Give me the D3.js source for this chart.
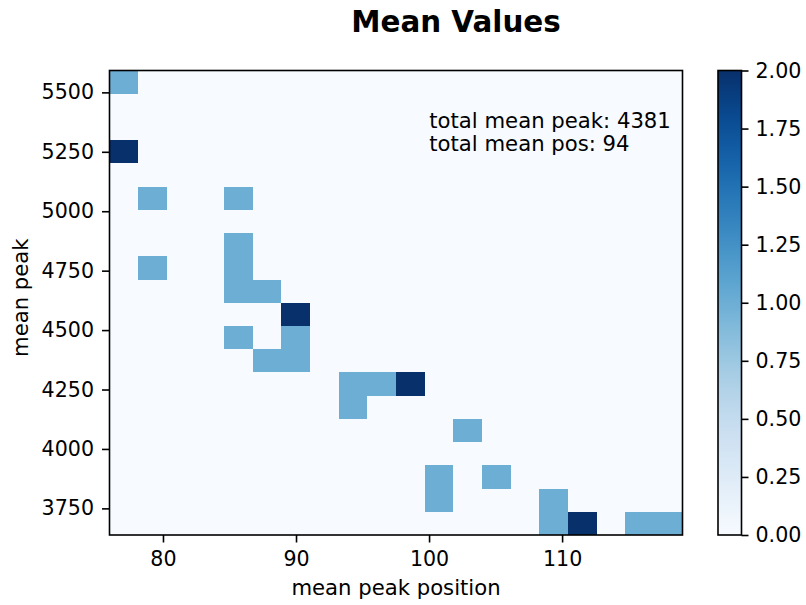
<!DOCTYPE html>
<html>
<head>
<meta charset="utf-8">
<script src="https://cdn.jsdelivr.net/npm/d3@7"></script>
<style>
  html, body { margin: 0; padding: 0; background: #ffffff; }
  svg { display: block; }
  text { font-family: "DejaVu Sans", sans-serif; fill: #000; }
</style>
</head>
<body>
<svg id="chart" width="806" height="605"></svg>
<script>
// Histogram extent (data units) and bin count per axis
const xExtent = [75.98, 119.05];
const yExtent = [3638, 5592];
const binCount = 20;

// Non-empty bins: column index (left to right), row index (bottom to top), count
const binCol   = [0, 0, 1, 4, 4, 4, 4, 1, 5, 6, 4, 6, 6, 5, 8, 9, 10, 8, 12, 11, 11, 13, 15, 15, 16, 18, 19];
const binRow   = [19, 16, 14, 14, 12, 11, 10, 11, 10, 9, 8, 8, 7, 7, 6, 6, 6, 5, 4, 2, 1, 2, 1, 0, 0, 0, 0];
const binValue = [1, 2, 1, 1, 1, 1, 1, 1, 1, 2, 1, 1, 1, 1, 1, 1, 2, 1, 1, 1, 1, 1, 1, 1, 2, 1, 1];

// Axis ticks
const xTicks = [80, 90, 100, 110];
const yTicks = [3750, 4000, 4250, 4500, 4750, 5000, 5250, 5500];
const colorTicks = [0, 0.25, 0.5, 0.75, 1, 1.25, 1.5, 1.75, 2];

// Summary figures printed inside the plot
const totalMeanPeak = 4381;
const totalMeanPos = 94;

const svg = d3.select("#chart");
const TICK_FS = 20.6;
const LABEL_FS = 21.2;

const plot = { left: 109.5, right: 682.5, top: 70.5, bottom: 535 };
const x = d3.scaleLinear().domain(xExtent).range([plot.left, plot.right]);
const y = d3.scaleLinear().domain(yExtent).range([plot.bottom, plot.top]);
const color = d3.scaleSequential(d3.interpolateBlues).domain([0, 2]);

// Full count grid, zero where no observations fell
const grid = [];
for (let c = 0; c < binCount; c++) {
  for (let r = 0; r < binCount; r++) grid.push({ c, r, v: 0 });
}
binCol.forEach((c, i) => { grid[c * binCount + binRow[i]].v = binValue[i]; });

const xStep = (xExtent[1] - xExtent[0]) / binCount;
const yStep = (yExtent[1] - yExtent[0]) / binCount;

svg.append("g")
  .attr("shape-rendering", "crispEdges")
  .selectAll("rect")
  .data(grid)
  .join("rect")
  .attr("x", d => x(xExtent[0] + d.c * xStep))
  .attr("width", d => x(xExtent[0] + (d.c + 1) * xStep) - x(xExtent[0] + d.c * xStep))
  .attr("y", d => y(yExtent[0] + (d.r + 1) * yStep))
  .attr("height", d => y(yExtent[0] + d.r * yStep) - y(yExtent[0] + (d.r + 1) * yStep))
  .attr("fill", d => color(d.v));

// Axes
const xAxis = svg.append("g")
  .attr("transform", `translate(0,${plot.bottom})`)
  .call(d3.axisBottom(x).tickValues(xTicks).tickFormat(d3.format("d"))
    .tickSize(7.5).tickPadding(9).tickSizeOuter(0));
const yAxis = svg.append("g")
  .attr("transform", `translate(${plot.left},0)`)
  .call(d3.axisLeft(y).tickValues(yTicks).tickFormat(d3.format("d"))
    .tickSize(7.5).tickPadding(8).tickSizeOuter(0));
[xAxis, yAxis].forEach(g => {
  g.select(".domain").remove();
  g.selectAll("line").attr("stroke", "#000").attr("stroke-width", 1.6);
  g.selectAll("text").style("font-size", TICK_FS + "px").style("font-family", "DejaVu Sans");
});

// Plot frame
svg.append("rect")
  .attr("x", plot.left).attr("y", plot.top)
  .attr("width", plot.right - plot.left).attr("height", plot.bottom - plot.top)
  .attr("fill", "none").attr("stroke", "#000").attr("stroke-width", 1.6);

// Axis titles
svg.append("text")
  .attr("x", (plot.left + plot.right) / 2).attr("y", 595)
  .attr("text-anchor", "middle").style("font-size", LABEL_FS + "px")
  .text("mean peak position");
svg.append("text")
  .attr("transform", "translate(28.4,297.7) rotate(-90)")
  .attr("text-anchor", "middle").style("font-size", LABEL_FS + "px")
  .text("mean peak");

// Title
svg.append("text")
  .attr("x", 456).attr("y", 32)
  .attr("text-anchor", "middle")
  .style("font-size", "29.4px").style("font-weight", "bold")
  .text("Mean Values");

// Summary annotation
const note = svg.append("text").attr("x", 429.3).attr("y", 128.3).style("font-size", LABEL_FS + "px");
note.append("tspan").attr("x", 429.3).text(`total mean peak: ${totalMeanPeak}`);
note.append("tspan").attr("x", 429.3).attr("dy", 22.4).text(`total mean pos: ${totalMeanPos}`);

// Colorbar
const cb = { left: 718, right: 741.5, top: 70.5, bottom: 535 };
const cbScale = d3.scaleLinear().domain([0, 2]).range([cb.bottom, cb.top]);
const grad = svg.append("defs").append("linearGradient")
  .attr("id", "blues").attr("x1", 0).attr("y1", 1).attr("x2", 0).attr("y2", 0);
d3.range(0, 1.0001, 0.02).forEach(t => {
  grad.append("stop").attr("offset", t).attr("stop-color", d3.interpolateBlues(t));
});
svg.append("rect")
  .attr("x", cb.left).attr("y", cb.top)
  .attr("width", cb.right - cb.left).attr("height", cb.bottom - cb.top)
  .attr("fill", "url(#blues)").attr("stroke", "#000").attr("stroke-width", 1.6);
const cbAxis = svg.append("g")
  .attr("transform", `translate(${cb.right},0)`)
  .call(d3.axisRight(cbScale).tickValues(colorTicks).tickFormat(d3.format(".2f"))
    .tickSize(7).tickPadding(7).tickSizeOuter(0));
cbAxis.select(".domain").remove();
cbAxis.selectAll("line").attr("stroke", "#000").attr("stroke-width", 1.6);
cbAxis.selectAll("text").style("font-size", TICK_FS + "px").style("font-family", "DejaVu Sans");
</script>
</body>
</html>
